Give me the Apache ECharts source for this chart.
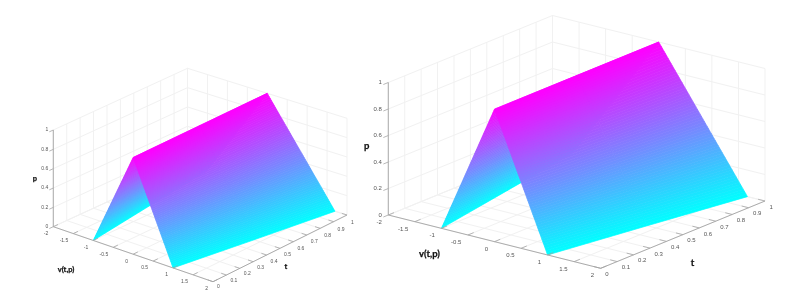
<!DOCTYPE html>
<html>
<head>
<meta charset="utf-8">
<style>html,body{margin:0;padding:0;background:#fff}#c{width:791px;height:301px}</style>
<script src="https://cdn.jsdelivr.net/npm/echarts@6/dist/echarts.min.js"></script>
</head>
<body>
<div id="c"></div>
<script>
// tick values
const vTicks = [-2, -1.5, -1, -0.5, 0, 0.5, 1, 1.5, 2];
const tTicks = [0, 0.1, 0.2, 0.3, 0.4, 0.5, 0.6, 0.7, 0.8, 0.9, 1];
const pTicks = [0, 0.2, 0.4, 0.6, 0.8, 1];
// surface values
const surfaceT = [0, 0.5, 1];
const ridgeV = [0, 0, 0];
const ridgeP = [1, 1, 1];
const footP = [0, 0, 0];
const leftPanelFootL = [-1, -1.26, -1.52];
const leftPanelFootR = [1, 1.35, 1.7];
const rightPanelFootL = [-1, -1.31, -1.62];
const rightPanelFootR = [1, 1.33, 1.67];

// view of each panel (floor corners and height of the p range)
const panels = [
  { A:[53.3,226.7], B:[213,281.7], C:[347,215], D:[187.5,165], h:96.7,
    footL:leftPanelFootL, footR:leftPanelFootR, size:5, titleSize:7.5,
    vLab:[-5,7], tLab:[4,5,3], pLab:-5, tick:1,
    pTitle:[35,179], vTitle:[66,270], tTitle:[286,267] },
  { A:[388.3,215], B:[600.7,268.3], C:[765,201], D:[552.5,148], h:132.5,
    footL:rightPanelFootL, footR:rightPanelFootR, size:6, titleSize:9.5,
    vLab:[-6.5,7.3], tLab:[4.5,6,0], pLab:-6.5, tick:1.3,
    pTitle:[366.7,146], vTitle:[429.5,253.5], tTitle:[692.5,262.5] }
];

const lerp = (a, b, k) => a + (b - a) * k;
function project(pn, v, t, p) {
  const u = (v + 2) / 4;
  const x = lerp(lerp(pn.A[0], pn.B[0], u), lerp(pn.D[0], pn.C[0], u), t);
  const y = lerp(lerp(pn.A[1], pn.B[1], u), lerp(pn.D[1], pn.C[1], u), t);
  return [x, y - p * pn.h];
}
const GRID = '#f1f1f1', AXIS = '#a4a4a4', TXT = '#555555';

function line(api, pn, a, b, stroke, w) {
  const s = api.coord(project(pn, a[0], a[1], a[2]));
  const e = api.coord(project(pn, b[0], b[1], b[2]));
  return { type:'line', shape:{x1:s[0],y1:s[1],x2:e[0],y2:e[1]}, style:{stroke, lineWidth:w} };
}

function gridSeries(pn) {
  const rows = [];
  vTicks.forEach(v => rows.push(['v', v]));
  tTicks.forEach(t => rows.push(['t', t]));
  pTicks.forEach(p => rows.push(['p', p]));
  return {
    type:'custom', coordinateSystem:'cartesian2d', silent:true, clip:false, animation:false,
    encode:{x:1,y:1}, data:rows, z:1,
    renderItem(params, api) {
      const [k, val] = rows[params.dataIndex];
      const ch = [];
      if (k === 'v') {
        ch.push(line(api, pn, [val,0,0], [val,1,0], GRID, 1));
        ch.push(line(api, pn, [val,1,0], [val,1,1], GRID, 1));
      } else if (k === 't') {
        ch.push(line(api, pn, [-2,val,0], [2,val,0], GRID, 1));
        ch.push(line(api, pn, [-2,val,0], [-2,val,1], GRID, 1));
      } else {
        ch.push(line(api, pn, [-2,0,val], [-2,1,val], GRID, 1));
        ch.push(line(api, pn, [-2,1,val], [2,1,val], GRID, 1));
      }
      return { type:'group', children:ch };
    }
  };
}

function flankSeries(pn, feet) {
  const BANDS = 64;
  return {
    type:'custom', coordinateSystem:'cartesian2d', silent:true, clip:false, animation:false,
    encode:{x:0,y:0}, data:surfaceT.slice(0,-1).map((t,i)=>[t,surfaceT[i+1],feet[i],feet[i+1],ridgeV[i],ridgeV[i+1],ridgeP[i],ridgeP[i+1],footP[i],footP[i+1]]), z:2,
    renderItem(params, api) {
      const t0=api.value(0), t1=api.value(1), f0=api.value(2), f1=api.value(3);
      const r0=api.value(4), r1=api.value(5), p0=api.value(6), p1=api.value(7);
      const q0=api.value(8), q1=api.value(9);
      const ch = [];
      for (let i = 0; i < BANDS; i++) {
        const a = i / BANDS, b = (i + 1) / BANDS, m = (a + b) / 2;
        const pts = [
          project(pn, lerp(f0,r0,a), t0, lerp(q0,p0,a)),
          project(pn, lerp(f1,r1,a), t1, lerp(q1,p1,a)),
          project(pn, lerp(f1,r1,b), t1, lerp(q1,p1,b)),
          project(pn, lerp(f0,r0,b), t0, lerp(q0,p0,b))
        ].map(c => api.coord(c));
        const col = `rgb(${Math.round(255*m)},${Math.round(255*(1-m))},255)`;
        ch.push({ type:'polygon', shape:{points:pts}, style:{fill:col, stroke:col, lineWidth:0.7} });
      }
      return { type:'group', children:ch };
    }
  };
}

function axisSeries(pn) {
  const rows = [];
  rows.push(['axis']);
  vTicks.forEach(v => rows.push(['v', v]));
  tTicks.forEach(t => rows.push(['t', t]));
  pTicks.forEach(p => rows.push(['p', p]));
  const txt = (s, x, y, align) => ({ type:'text', style:{ text:s, x, y, align, verticalAlign:'middle',
    fill:TXT, font:`${pn.size}px "Liberation Sans", Arial, sans-serif` } });
  return {
    type:'custom', coordinateSystem:'cartesian2d', silent:true, clip:false, animation:false,
    encode:{x:1,y:1}, data:rows, z:3,
    renderItem(params, api) {
      const [k, val] = rows[params.dataIndex];
      const ch = [];
      if (k === 'axis') {
        ch.push(line(api, pn, [-2,0,0], [-2,0,1], AXIS, 0.9));
        ch.push(line(api, pn, [-2,0,0], [2,0,0], AXIS, 0.9));
        ch.push(line(api, pn, [2,0,0], [2,1,0], AXIS, 0.9));
      } else if (k === 'v') {
        ch.push(line(api, pn, [val,0,0], [val,0.035,0], AXIS, 0.8));
        const c = api.coord(project(pn, val, 0, 0));
        ch.push(txt(String(val), c[0] + pn.vLab[0], c[1] + pn.vLab[1], 'right'));
      } else if (k === 't') {
        ch.push(line(api, pn, [2,val,0], [1.87,val,0], AXIS, 0.8));
        const c = api.coord(project(pn, 2, val, 0));
        ch.push(txt(String(val), c[0] + pn.tLab[0], c[1] + pn.tLab[1] + pn.tLab[2] * val, 'left'));
      } else {
        ch.push(line(api, pn, [-2,0,val], [-2,-0.03,val], AXIS, 0.8));
        const c = api.coord(project(pn, -2, 0, val));
        ch.push(txt(String(val), c[0] + pn.pLab, c[1], 'right'));
      }
      return { type:'group', children:ch };
    }
  };
}

function titleSeries(pn) {
  const rows = [['p', pn.pTitle], ['v(t,p)', pn.vTitle], ['t', pn.tTitle]];
  return {
    type:'custom', coordinateSystem:'cartesian2d', silent:true, clip:false, animation:false,
    encode:{x:1,y:2}, data:rows.map(r => [r[0], r[1][0], r[1][1]]), z:4,
    renderItem(params, api) {
      const r = rows[params.dataIndex];
      const c = api.coord(r[1]);
      return { type:'text', style:{ text:r[0], x:c[0], y:c[1], align:'center', verticalAlign:'middle',
        fill:'#111', stroke:'#111', lineWidth:0.25, font:`bold ${pn.titleSize}px Lato, "Open Sans", sans-serif` } };
    }
  };
}

const series = [];
panels.forEach(pn => {
  series.push(gridSeries(pn), flankSeries(pn, pn.footL), flankSeries(pn, pn.footR), axisSeries(pn), titleSeries(pn));
});

const chart = echarts.init(document.getElementById('c'), null, { renderer:'canvas', width:791, height:301 });
chart.setOption({
  animation:false,
  backgroundColor:'#fff',
  grid:{ left:0, top:0, right:0, bottom:0, show:false },
  xAxis:{ type:'value', min:0, max:791, show:false },
  yAxis:{ type:'value', min:0, max:301, inverse:true, show:false },
  series
});
</script>
</body>
</html>
